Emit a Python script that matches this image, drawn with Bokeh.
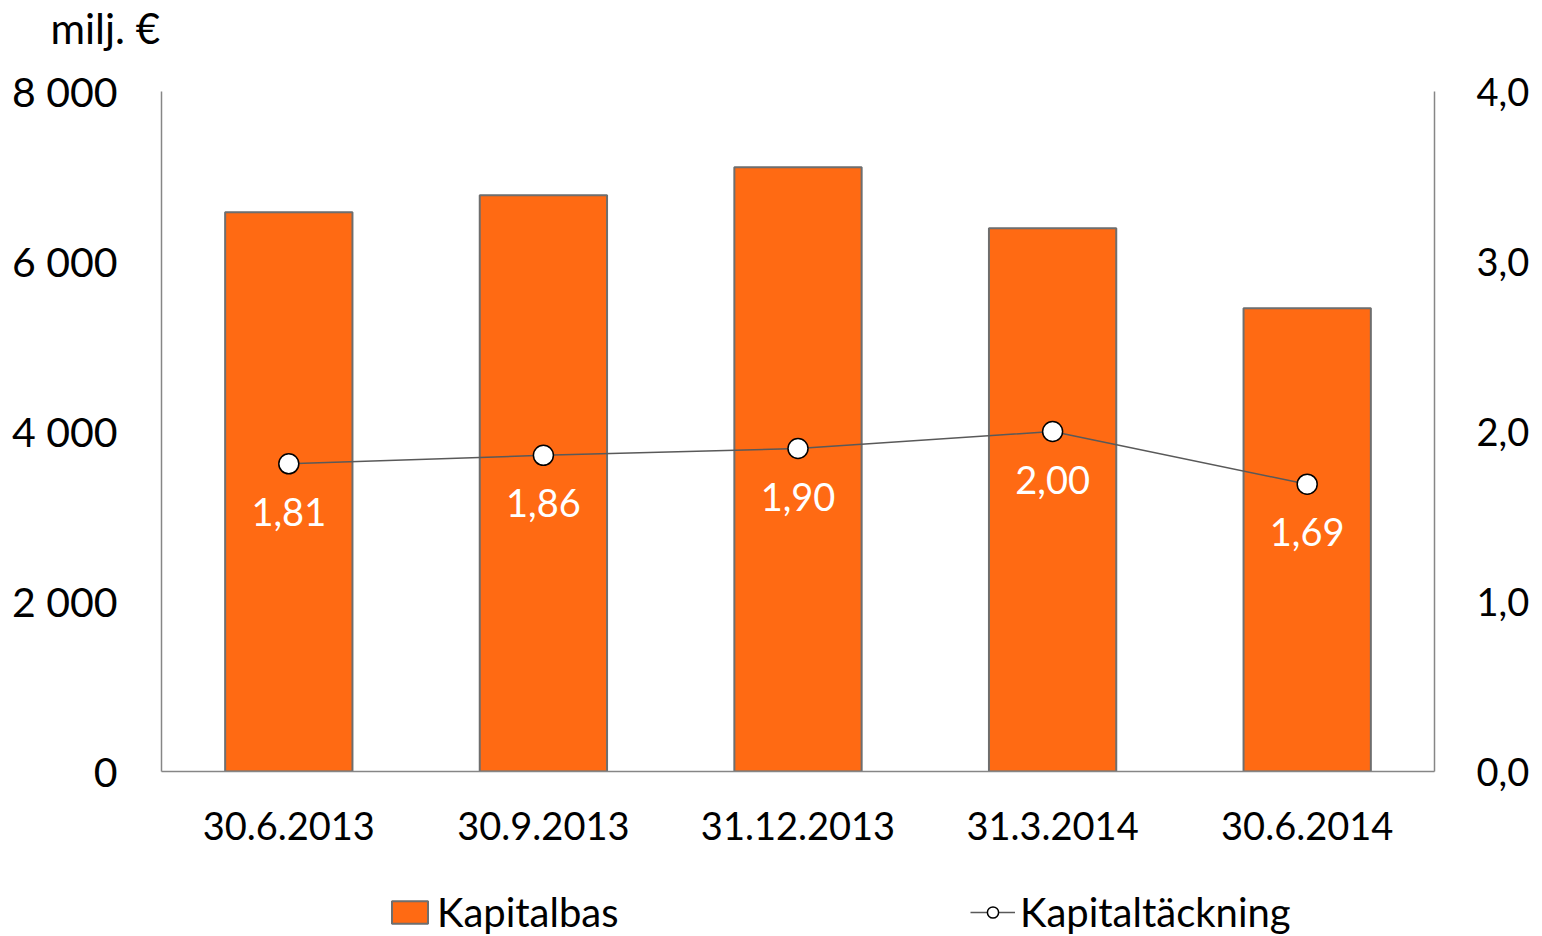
from bokeh.plotting import figure
from bokeh.layouts import column
from bokeh.models import (ColumnDataSource, FactorRange, Range1d, LinearAxis, FixedTicker,
                          CustomJSTickFormatter, Legend, LegendItem)
from bokeh.core.properties import value
from bokeh.embed import file_html
from bokeh.resources import INLINE

dates = ["30.6.2013", "30.9.2013", "31.12.2013", "31.3.2014", "30.6.2014"]
kapitalbas = [6580, 6780, 7110, 6390, 5450]
kapitaltackning = [1.81, 1.86, 1.90, 2.00, 1.69]
kt_labels = ["1,81", "1,86", "1,90", "2,00", "1,69"]
series_names = ["Kapitalbas", "Kapitaltäckning"]

FONT = "Lato"
FS = "38px"
BAR_FILL = "#FF6A13"
BAR_LINE = "#6E6E6E"
LINE_COL = "#595959"

src = ColumnDataSource(dict(x=dates, bas=kapitalbas, kt=kapitaltackning, lab=kt_labels))

p = figure(x_range=FactorRange(*dates, range_padding=0), y_range=Range1d(0, 8000),
           frame_width=1273, frame_height=680,
           min_border_left=161, min_border_right=108, min_border_top=91, min_border_bottom=105,
           output_backend="svg", toolbar_location=None, background_fill_color="white",
           border_fill_color="white", outline_line_color=None)
p.x_range.factor_padding = 0
p.xgrid.grid_line_color = None
p.ygrid.grid_line_color = None

p.title.text = "milj. €\n "
p.title.align = "left"
p.title.offset = -111
p.title.standoff = -26
p.title.vertical_align = "top"
p.title.text_font = FONT
p.title.text_font_size = "42px"
p.title.text_font_style = "normal"
p.title.text_color = "black"

p.extra_y_ranges = {"r": Range1d(0, 4)}

p.vbar(x="x", top="bas", width=0.5, source=src, fill_color=BAR_FILL,
       line_color=BAR_LINE, line_width=2)
p.line(x="x", y="kt", source=src, y_range_name="r", line_color=LINE_COL, line_width=1.5)
p.scatter(x="x", y="kt", source=src, y_range_name="r", size=20, fill_color="white",
          line_color="black", line_width=1.5)
p.text(x="x", y="kt", text="lab", source=src, y_range_name="r", text_color="white",
       text_font=value(FONT), text_font_size=FS, text_align="center", text_baseline="middle",
       y_offset=48)

# left axis
ya = p.yaxis[0]
ya.ticker = FixedTicker(ticks=[0, 2000, 4000, 6000, 8000])
ya.formatter = CustomJSTickFormatter(code="""
const s = Math.round(tick).toString();
return s.replace(/\\B(?=(\\d{3})+(?!\\d))/g, ' ');
""")
ya.major_tick_line_color = None
ya.minor_tick_line_color = None
ya.axis_line_color = "#868686"
ya.axis_line_width = 1.5
ya.major_label_standoff = 38
ya.major_label_text_font = FONT
ya.major_label_text_font_size = "41px"
ya.major_label_text_color = "black"

# right axis
ra = LinearAxis(y_range_name="r", ticker=FixedTicker(ticks=[0, 1, 2, 3, 4]),
                formatter=CustomJSTickFormatter(code="return tick.toFixed(1).replace('.', ',');"))
ra.major_tick_line_color = None
ra.minor_tick_line_color = None
ra.axis_line_color = "#868686"
ra.axis_line_width = 1.5
ra.major_label_standoff = 36
ra.major_label_text_font = FONT
ra.major_label_text_font_size = FS
ra.major_label_text_color = "black"
p.add_layout(ra, "right")

# x axis
xa = p.xaxis[0]
xa.major_tick_line_color = None
xa.minor_tick_line_color = None
xa.axis_line_color = "#868686"
xa.axis_line_width = 1.5
xa.major_label_standoff = 34
xa.major_label_text_font = FONT
xa.major_label_text_font_size = FS
xa.major_label_text_color = "black"

# legend strip (separate figure below the chart); its proxy glyphs are hidden
leg = figure(width=1542, height=60, x_range=FactorRange(*dates, range_padding=0),
             y_range=Range1d(-20000, -10000),
             x_axis_location=None, y_axis_location=None, min_border=0,
             output_backend="svg", toolbar_location=None, outline_line_color=None,
             background_fill_color="white", border_fill_color="white")
leg.xgrid.grid_line_color = None
leg.ygrid.grid_line_color = None
lb = leg.vbar(x="x", top="bas", width=0.5, source=src, fill_color=BAR_FILL,
              line_color=BAR_LINE, line_width=2)
ll = leg.line(x="x", y="kt", source=src, line_color=LINE_COL, line_width=1.5)
ls = leg.scatter(x="x", y="kt", source=src, size=20, fill_color="white",
                 line_color="black", line_width=1.5)
for r in (lb, ll, ls):
    r.visible = False
legend = Legend(items=[LegendItem(label=series_names[0], renderers=[lb]),
                       LegendItem(label=series_names[1], renderers=[ll, ls])],
                orientation="horizontal", location=(226, 0), click_policy="none",
                label_text_font=FONT, label_text_font_size="40px", label_text_color="black",
                glyph_width=45, glyph_height=28, label_standoff=5, label_width=533, spacing=0,
                padding=0, margin=0, border_line_alpha=0, background_fill_alpha=0)
leg.add_layout(legend)

layout = column(p, leg, spacing=0)
open("out.html", "w").write(file_html(layout, INLINE))
